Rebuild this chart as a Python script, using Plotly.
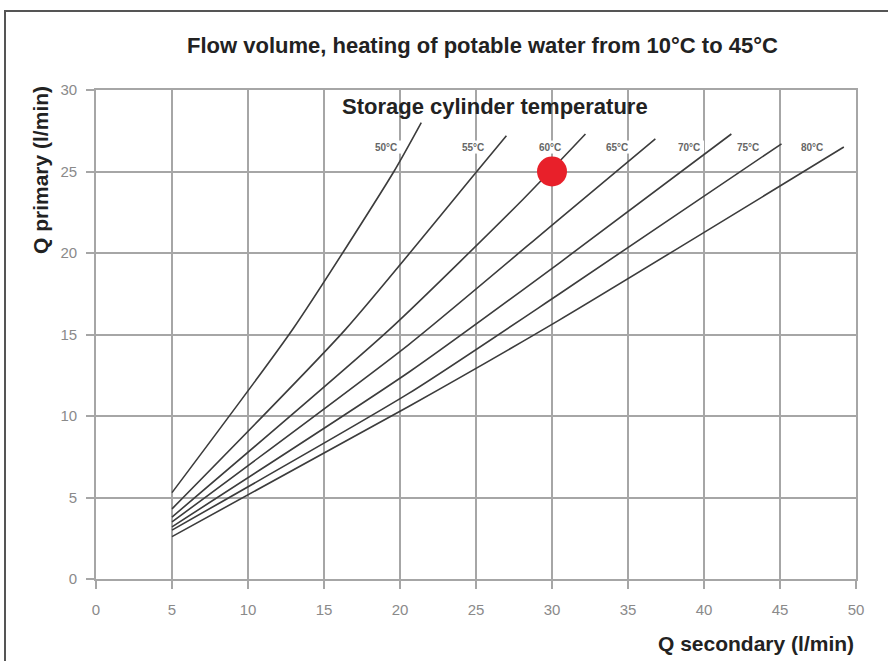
import plotly.graph_objects as go

# ---- data ----
temps = ["50°C", "55°C", "60°C", "65°C", "70°C", "75°C", "80°C"]
x_50 = [5, 13.0, 19.6, 21.4]
y_50 = [5.3, 15.4, 25.0, 28.0]
x_55 = [5, 16.4, 25.05, 27.0]
y_55 = [4.3, 15.3, 25.0, 27.2]
x_60 = [5, 19.3, 28.1, 32.2]
y_60 = [3.8, 15.3, 23.3, 27.3]
x_65 = [5, 20.6, 30.5, 36.8]
y_65 = [3.5, 14.4, 22.1, 27.0]
x_70 = [5, 20.6, 30.5, 41.8]
y_70 = [3.2, 12.7, 19.4, 27.3]
x_75 = [5, 20.6, 30.5, 45.1]
y_75 = [3.0, 11.4, 17.5, 26.7]
x_80 = [5, 20.6, 30.5, 49.2]
y_80 = [2.6, 10.6, 15.9, 26.5]
series_x = [x_50, x_55, x_60, x_65, x_70, x_75, x_80]
series_y = [y_50, y_55, y_60, y_65, y_70, y_75, y_80]

label_x = [19.1, 24.8, 29.9, 34.3, 39.0, 42.9, 47.1]
label_y = [26.5, 26.5, 26.5, 26.5, 26.5, 26.5, 26.5]

marker_x = [30]
marker_y = [25]

x_ticks = [0, 5, 10, 15, 20, 25, 30, 35, 40, 45, 50]
y_ticks = [0, 5, 10, 15, 20, 25, 30]

title_text = "Flow volume, heating of potable water from 10°C to 45°C"
x_title = "Q secondary (l/min)"
y_title = "Q primary (l/min)"
legend_title = "Storage cylinder temperature"

FONT = "Liberation Sans, Arial, sans-serif"
GRID = "#a6a6a6"
LINE = "#3c3c3c"

fig = go.Figure()
for xs, ys, name in zip(series_x, series_y, temps):
    fig.add_trace(go.Scatter(x=xs, y=ys, mode="lines", name=name,
                             line=dict(color=LINE, width=1.6, shape="spline", smoothing=0.6),
                             showlegend=False, hoverinfo="skip"))

fig.add_trace(go.Scatter(x=marker_x, y=marker_y, mode="markers",
                         marker=dict(color="#e8202a", size=30),
                         showlegend=False, hoverinfo="skip"))

shapes = []
# white masks over gridlines behind the texts
for lx, ly in zip(label_x, label_y):
    shapes.append(dict(type="rect", xref="x", yref="y", layer="between",
                       x0=lx - 1.0, x1=lx + 1.0, y0=ly - 0.4, y1=ly + 0.4,
                       fillcolor="white", line=dict(width=0)))
shapes.append(dict(type="rect", xref="paper", yref="paper", layer="between",
                   x0=(337 - 96) / 760, x1=(645 - 96) / 760,
                   y0=(579 - 120) / 489, y1=(579 - 95) / 489,
                   fillcolor="white", line=dict(width=0)))
# outer frame
shapes.append(dict(type="rect", xref="paper", yref="paper", layer="above",
                   x0=(5 - 96) / 760, x1=1.3, y0=-0.4, y1=(579 - 11) / 489,
                   line=dict(color="#555555", width=2), fillcolor="rgba(0,0,0,0)"))

annotations = []
for lx, ly, t in zip(label_x, label_y, temps):
    annotations.append(dict(x=lx, y=ly, xref="x", yref="y", text="<b>" + t + "</b>",
                            showarrow=False, font=dict(family=FONT, size=10, color="#666666")))
annotations.append(dict(x=(340 - 96) / 760, y=(579 - 106) / 489, xref="paper", yref="paper",
                        xanchor="left", yanchor="middle", showarrow=False,
                        text="<b>" + legend_title + "</b>",
                        font=dict(family=FONT, size=22, color="#222222")))
annotations.append(dict(x=(482 - 96) / 760, y=(579 - 45) / 489, xref="paper", yref="paper",
                        xanchor="center", yanchor="middle", showarrow=False,
                        text="<b>" + title_text + "</b>",
                        font=dict(family=FONT, size=22, color="#222222")))
annotations.append(dict(x=1.0, y=(579 - 643) / 489, xref="paper", yref="paper",
                        xanchor="right", yanchor="middle", showarrow=False,
                        text="<b>" + x_title + "</b>",
                        font=dict(family=FONT, size=21, color="#222222")))
annotations.append(dict(x=(40 - 96) / 760, y=(579 - 170) / 489, xref="paper", yref="paper",
                        xanchor="center", yanchor="middle", showarrow=False, textangle=-90,
                        text="<b>" + y_title + "</b>",
                        font=dict(family=FONT, size=21, color="#222222")))

fig.update_layout(
    width=888, height=661,
    margin=dict(l=96, r=32, t=90, b=82),
    paper_bgcolor="white", plot_bgcolor="white",
    shapes=shapes, annotations=annotations,
)
fig.update_xaxes(range=[0, 50], tickvals=x_ticks, ticktext=[str(v) for v in x_ticks],
                 showgrid=True, gridcolor=GRID, gridwidth=1.6,
                 showline=True, mirror=True, linecolor=GRID, linewidth=1.6,
                 zeroline=False, ticks="outside", ticklen=8, tickcolor=GRID, tickwidth=1.5,
                 ticklabelstandoff=8,
                 tickfont=dict(family=FONT, size=15, color="#8a8a8a"))
fig.update_yaxes(range=[0, 30], tickvals=y_ticks, ticktext=[str(v) for v in y_ticks],
                 showgrid=True, gridcolor=GRID, gridwidth=1.6,
                 showline=True, mirror=True, linecolor=GRID, linewidth=1.6,
                 zeroline=False, ticks="outside", ticklen=8, tickcolor=GRID, tickwidth=1.5,
                 ticklabelstandoff=6,
                 tickfont=dict(family=FONT, size=15, color="#8a8a8a"))

fig.write_html("out.html",
               config={"displayModeBar": False},
               post_script="document.body.style.margin='0';document.body.style.overflow='hidden';")
